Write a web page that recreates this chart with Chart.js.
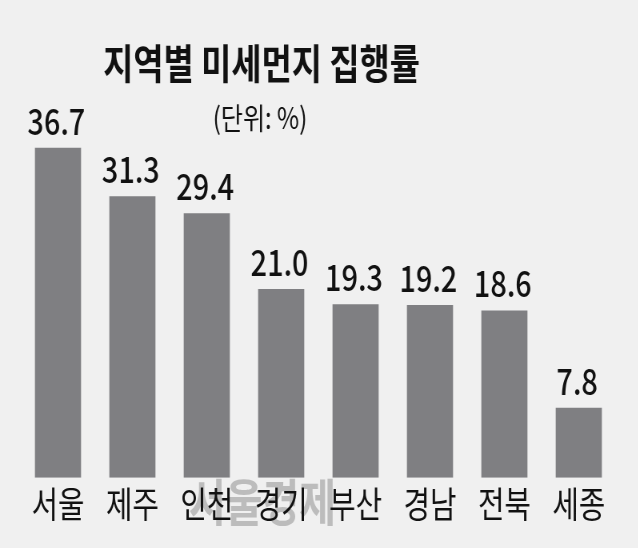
<!DOCTYPE html>
<html>
<head>
<meta charset="utf-8">
<script src="https://cdn.jsdelivr.net/npm/chart.js@4"></script>
<style>
  html, body { margin: 0; padding: 0; background: #f0f0f0; overflow: hidden; }
  #wrap { width: 638px; height: 548px; overflow: hidden; }
  /* the reference uses a condensed gothic, so squeeze the canvas horizontally */
  #chart { display: block; transform: scaleX(0.8); transform-origin: 0 0; }
</style>
</head>
<body>
<div id="wrap"><canvas id="chart" width="798" height="548"></canvas></div>
<script>
const regions = ['서울', '제주', '인천', '경기', '부산', '경남', '전북', '세종'];
const rates = [36.7, 31.3, 29.4, 21.0, 19.3, 19.2, 18.6, 7.8];
const titleText = '지역별 미세먼지 집행률';
const unitText = '(단위: %)';
const watermark = '서울경제';

const font = '"Noto Sans CJK KR", "Noto Sans", sans-serif';

// title, unit note and the faint watermark
const textPlugin = {
  id: 'texts',
  beforeDraw(chart) {
    const ctx = chart.ctx;
    ctx.save();
    ctx.textAlign = 'center';
    ctx.textBaseline = 'middle';
    ctx.fillStyle = 'rgba(165,165,165,0.7)';
    ctx.font = 'bold 50px ' + font;
    ctx.fillText(watermark, 328, 502);
    ctx.restore();
  },
  afterDraw(chart) {
    const ctx = chart.ctx;
    ctx.save();
    ctx.textAlign = 'center';
    ctx.textBaseline = 'middle';
    ctx.fillStyle = '#111';
    ctx.font = 'bold 41px ' + font;
    ctx.fillText(titleText, 327, 63);
    ctx.font = '30px ' + font;
    ctx.fillText(unitText, 325, 118);
    ctx.restore();
  }
};

// value above each bar
const valuePlugin = {
  id: 'values',
  afterDatasetsDraw(chart) {
    const ctx = chart.ctx;
    const meta = chart.getDatasetMeta(0);
    ctx.save();
    ctx.textAlign = 'center';
    ctx.textBaseline = 'alphabetic';
    ctx.fillStyle = '#111';
    ctx.font = '500 36px ' + font;
    meta.data.forEach((bar, i) => {
      ctx.fillText(rates[i].toFixed(1), bar.x - 2, bar.y - 13);
    });
    ctx.restore();
  }
};

new Chart(document.getElementById('chart'), {
  type: 'bar',
  data: {
    labels: regions,
    datasets: [{
      data: rates,
      backgroundColor: '#7f7f82',
      categoryPercentage: 1,
      barPercentage: 0.62
    }]
  },
  options: {
    responsive: false,
    animation: false,
    layout: { padding: { left: 26, right: 28, top: 118, bottom: 25 } },
    plugins: {
      legend: { display: false },
      tooltip: { enabled: false }
    },
    scales: {
      x: {
        grid: { display: false },
        border: { display: false },
        ticks: { color: '#111', font: { family: font, size: 36 }, padding: -3 }
      },
      y: {
        display: false,
        min: 0,
        max: 40
      }
    }
  },
  plugins: [textPlugin, valuePlugin]
});
</script>
</body>
</html>
